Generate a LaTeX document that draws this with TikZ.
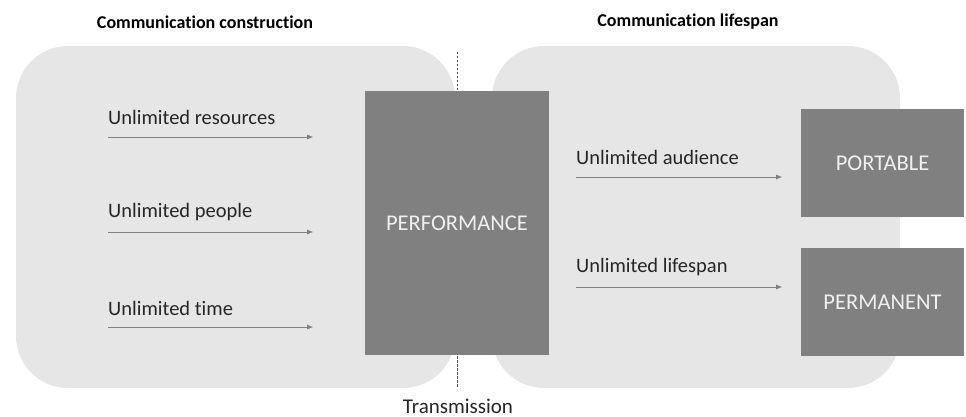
\documentclass[tikz,border=0pt]{standalone}
\usepackage{fontspec}
\setmainfont{Carlito}[Ligatures=NoCommon]
\usetikzlibrary{arrows.meta}
\definecolor{regiongray}{HTML}{E6E6E6}
\definecolor{blockgray}{HTML}{808080}
\definecolor{textgray}{HTML}{262626}
\begin{document}
\begin{tikzpicture}[
  x=1pt, y=-1pt,
  region/.style={fill=regiongray, rounded corners=52pt},
  block/.style={fill=blockgray, text=white!94!black, inner sep=0pt,
    font=\fontsize{22.5}{26}\selectfont},
  lbl/.style={anchor=west, text=textgray, inner sep=0pt,
    font=\fontsize{20.5}{24}\selectfont},
  title/.style={text=black, font=\fontsize{18}{21}\selectfont\bfseries},
  arr/.style={draw=blockgray, thin, -{Latex[length=6pt,width=5pt]}}
]
\useasboundingbox (0,0) rectangle (966,417);

% background regions
\fill [region] (16,46) rectangle (455,388);
\fill [region] (492,46) rectangle (900,388);
\draw [dashed, textgray!80, thin, dash pattern=on 2.5pt off 1.5pt] (457,52) -- (457,388);

% titles
\node [title] (construction) at (205,22) {Communication construction};
\node [title] (lifespan) at (688,22) {Communication lifespan};
\node [text=textgray, font=\fontsize{21}{24}\selectfont] (transmission) at (458,406) {Transmission};

% blocks
\node [block, minimum width=184pt, minimum height=264pt] (performance) at (457,223) {PERFORMANCE};
\node [block, minimum width=163pt, minimum height=108pt] (portable) at (882.5,163) {PORTABLE};
\node [block, minimum width=163pt, minimum height=108pt] (permanent) at (882.5,302) {PERMANENT};

% inputs
\node [lbl] (resources) at (108,117) {Unlimited resources};
\node [lbl] (people) at (108,212) {Unlimited people};
\node [lbl] (time) at (108,308) {Unlimited time};
\coordinate (resources-s) at (108,137);
\coordinate (resources-e) at (313,137);
\coordinate (people-s) at (108,232);
\coordinate (people-e) at (313,232);
\coordinate (time-s) at (108,327);
\coordinate (time-e) at (313,327);
\draw [arr] (resources-s) -- (resources-e);
\draw [arr] (people-s) -- (people-e);
\draw [arr] (time-s) -- (time-e);

% outputs
\node [lbl] (audience) at (576,157) {Unlimited audience};
\node [lbl] (life) at (576,267) {Unlimited lifespan};
\coordinate (audience-s) at (576,177);
\coordinate (audience-e) at (782,177);
\coordinate (life-s) at (576,287);
\coordinate (life-e) at (782,287);
\draw [arr] (audience-s) -- (audience-e);
\draw [arr] (life-s) -- (life-e);
\end{tikzpicture}
\end{document}
